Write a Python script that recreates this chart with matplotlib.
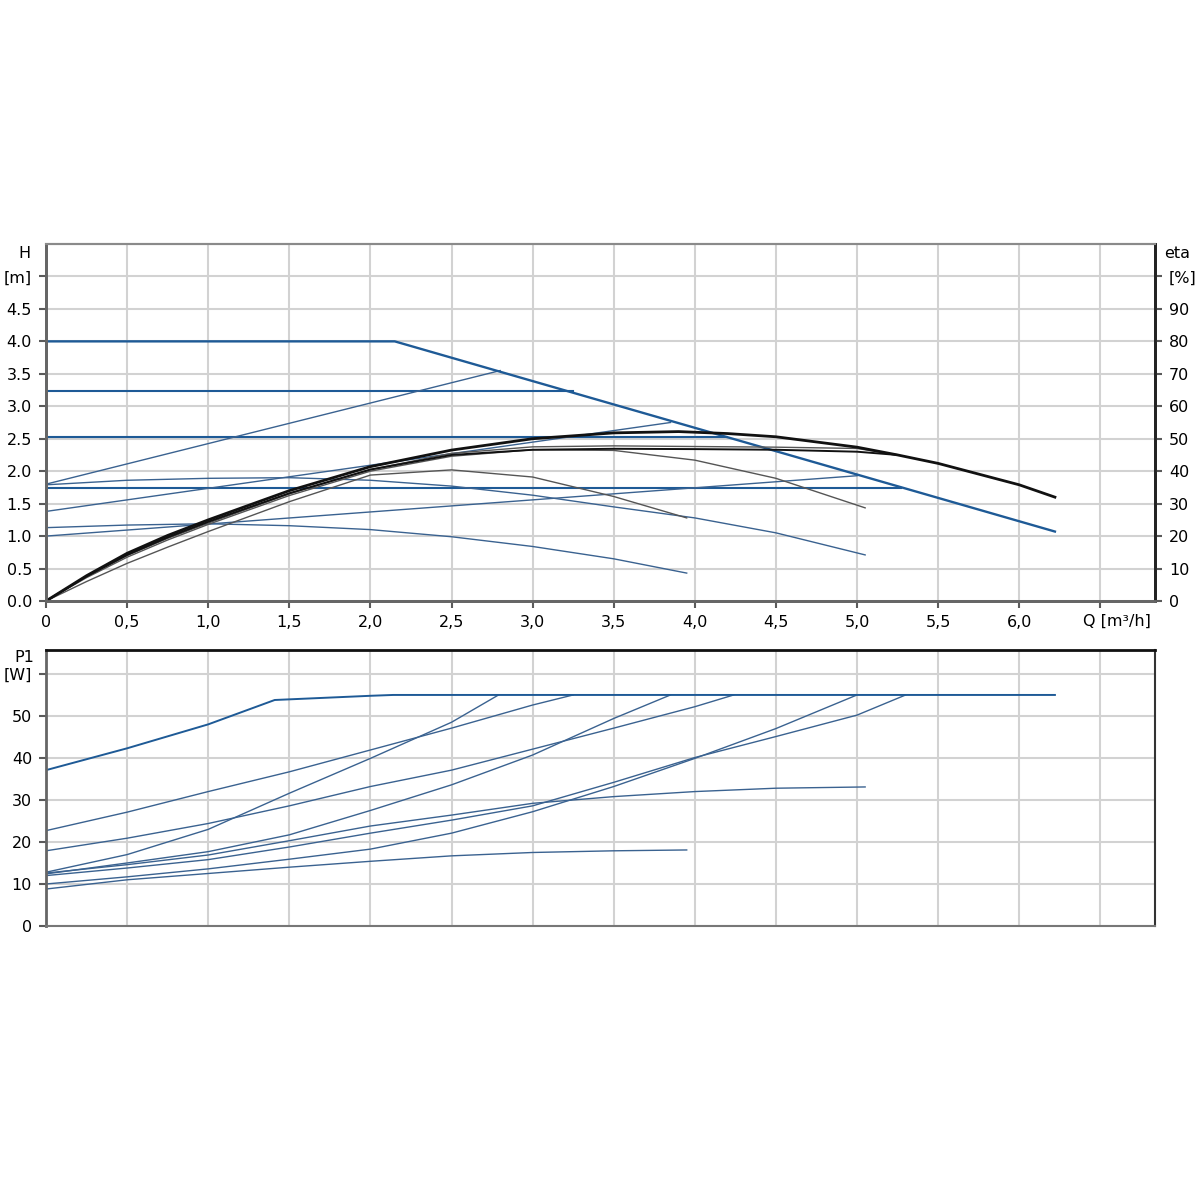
import matplotlib
matplotlib.use('Agg')
import matplotlib.pyplot as plt

plt.rcParams['font.family'] = ['DejaVu Sans']
plt.rcParams['font.size'] = 11.5

# =============================================================================
# H(Q) curves [m]
# =============================================================================
q_max = [0, 2.15, 6.22]
h_max = [4.0, 4.0, 1.07]

q_cp3 = [0, 3.25]
h_cp3 = [3.23, 3.23]
q_cp2 = [0, 4.2]
h_cp2 = [2.52, 2.52]
q_cp1 = [0, 5.27]
h_cp1 = [1.74, 1.74]

q_pp2 = [0, 2.8]
h_pp2 = [1.8, 3.55]
q_pp1 = [0, 3.85]
h_pp1 = [1.38, 2.75]
q_pp0 = [0, 5.0]
h_pp0 = [1.0, 1.93]

q_sp3 = [0, 0.5, 1.0, 1.5, 2.0, 2.5, 3.0, 3.5, 4.0, 4.5, 5.05]
h_sp3 = [1.79, 1.86, 1.89, 1.9, 1.86, 1.77, 1.63, 1.45, 1.28, 1.05, 0.71]
q_sp1 = [0, 0.5, 1.0, 1.5, 2.0, 2.5, 3.0, 3.5, 3.95]
h_sp1 = [1.13, 1.17, 1.19, 1.16, 1.10, 0.99, 0.84, 0.65, 0.43]

# =============================================================================
# eta(Q) curves [%]
# =============================================================================
q_eta1 = [0, 0.25, 0.5, 0.75, 1.0, 1.5, 2.0, 2.5, 3.0, 3.5, 3.9, 4.2, 4.5, 5.0, 5.25, 5.5, 6.0, 6.22]
eta1 = [0, 7.8, 14.7, 20.2, 25, 34, 41.4, 46.5, 50, 51.8, 52.2, 51.6, 50.6, 47.4, 45, 42.4, 35.8, 32]
q_eta2 = [0, 0.25, 0.5, 0.75, 1.0, 1.5, 2.0, 2.5, 3.0, 3.5, 4.0, 4.5, 5.0, 5.25]
eta2 = [0, 7.6, 14.2, 19.6, 24.4, 33.2, 40.5, 45, 46.6, 46.9, 46.8, 46.6, 46.0, 45.0]
q_eta3 = [0, 0.25, 0.5, 0.75, 1.0, 1.5, 2.0, 2.5, 3.0, 3.5, 4.0, 4.5, 5.0, 5.25]
eta3 = [0, 7.5, 14.0, 19.3, 24.0, 33.0, 40.5, 45.5, 47.5, 47.8, 47.6, 47.4, 47.0, 45.0]
q_eta4 = [0, 0.25, 0.5, 0.75, 1.0, 1.5, 2.0, 2.5, 3.0, 3.5, 3.95]
eta4 = [0, 6.0, 11.6, 16.6, 21.4, 30.6, 38.8, 40.4, 38.2, 32.2, 25.6]
q_eta5 = [0, 0.25, 0.5, 0.75, 1.0, 1.5, 2.0, 2.5, 3.0, 3.5, 4.0, 4.5, 5.05]
eta5 = [0, 7.2, 13.5, 18.8, 23.6, 32.5, 40, 44.6, 46.6, 46.4, 43.4, 37.8, 28.7]

# =============================================================================
# P1(Q) curves [W]
# =============================================================================
q_pa = [0, 0.5, 1.0, 1.41, 2.0, 2.14, 6.22]
p_pa = [37.1, 42.3, 48.0, 53.8, 54.8, 55.0, 55.0]
q_pb = [0, 0.5, 1.0, 1.5, 2.0, 2.5, 3.0, 3.25]
p_pb = [22.7, 27.1, 32.0, 36.7, 41.9, 47.1, 52.6, 55.0]
q_pc = [0, 0.5, 1.0, 1.5, 2.0, 2.5, 3.0, 3.5, 4.0, 4.24]
p_pc = [17.9, 20.9, 24.4, 28.6, 33.2, 37.1, 42.1, 47.1, 52.2, 55.0]
q_ps = [0, 0.5, 1.0, 1.5, 2.0, 2.5, 2.79]
p_ps = [12.8, 17.0, 23.0, 31.6, 39.9, 48.5, 55.0]
q_pd = [0, 0.5, 1.0, 1.5, 2.0, 2.5, 3.0, 3.5, 3.85]
p_pd = [12.4, 15.0, 17.7, 21.7, 27.5, 33.6, 40.7, 49.4, 55.0]
q_pe = [0, 0.5, 1.0, 1.5, 2.0, 2.5, 3.0, 3.5, 4.0, 4.5, 5.0]
p_pe = [10.0, 11.7, 13.6, 15.9, 18.3, 22.1, 27.2, 33.2, 39.9, 47.0, 55.0]
q_pf = [0, 0.5, 1.0, 1.5, 2.0, 2.5, 3.0, 3.5, 4.0, 4.5, 5.0, 5.3]
p_pf = [12.0, 13.8, 15.8, 18.8, 22.1, 25.2, 28.6, 34.2, 40.1, 45.1, 50.2, 55.0]
q_pg = [0, 0.5, 1.0, 1.5, 2.0, 2.5, 3.0, 3.5, 4.0, 4.5, 5.05]
p_pg = [12.6, 14.6, 16.9, 20.3, 23.8, 26.4, 29.2, 30.8, 32.0, 32.8, 33.1]
q_ph = [0, 0.5, 1.0, 1.5, 2.0, 2.5, 3.0, 3.5, 3.95]
p_ph = [8.8, 11.0, 12.5, 14.0, 15.4, 16.7, 17.5, 17.9, 18.1]

# tick labels
q_ticks = [0, 0.5, 1.0, 1.5, 2.0, 2.5, 3.0, 3.5, 4.0, 4.5, 5.0, 5.5, 6.0, 6.5]
q_labels = ['0', '0,5', '1,0', '1,5', '2,0', '2,5', '3,0', '3,5', '4,0', '4,5',
            '5,0', '5,5', '6,0', '']
h_ticks = [0, 0.5, 1.0, 1.5, 2.0, 2.5, 3.0, 3.5, 4.0, 4.5, 5.0]
h_labels = ['0.0', '0.5', '1.0', '1.5', '2.0', '2.5', '3.0', '3.5', '4.0', '4.5', '[m]']
eta_ticks = [0, 10, 20, 30, 40, 50, 60, 70, 80, 90, 100]
eta_labels = ['0', '10', '20', '30', '40', '50', '60', '70', '80', '90', '[%]']
p_ticks = [0, 10, 20, 30, 40, 50, 60]
p_labels = ['0', '10', '20', '30', '40', '50', '[W]']

BLUE = '#1e5a96'
BLUE_THIN = '#3a6290'
BLACK = '#111111'
GREY = '#555555'
GRID = '#d2d2d2'
TICK = '#5a5a5a'

fig = plt.figure(figsize=(12, 12), dpi=100)

# -----------------------------------------------------------------------------
# top panel: H and eta
# -----------------------------------------------------------------------------
ax1 = fig.add_axes([46 / 1200, 1 - 601 / 1200, 1109 / 1200, 357 / 1200])
ax1.set_xlim(0, 6.837)
ax1.set_ylim(0, 5.5)
ax1.set_xticks(q_ticks)
ax1.set_xticklabels(q_labels)
ax1.set_yticks(h_ticks)
ax1.set_yticklabels(h_labels)
ax1.grid(True, color=GRID, lw=1.5)
ax1.set_axisbelow(True)
ax1.tick_params(axis='both', length=5, width=1.5, color=TICK, pad=5)

ax1.plot(q_cp3, h_cp3, color=BLUE, lw=1.5)
ax1.plot(q_cp2, h_cp2, color=BLUE, lw=1.5)
ax1.plot(q_cp1, h_cp1, color=BLUE, lw=1.5)
ax1.plot(q_pp2, h_pp2, color=BLUE_THIN, lw=1.0)
ax1.plot(q_pp1, h_pp1, color=BLUE_THIN, lw=1.0)
ax1.plot(q_pp0, h_pp0, color=BLUE_THIN, lw=1.0)
ax1.plot(q_sp3, h_sp3, color=BLUE_THIN, lw=1.0)
ax1.plot(q_sp1, h_sp1, color=BLUE_THIN, lw=1.0)
ax1.plot(q_max, h_max, color=BLUE, lw=1.7)

ax2 = ax1.twinx()
ax2.set_ylim(0, 110)
ax2.set_yticks(eta_ticks)
ax2.set_yticklabels(eta_labels)
ax2.tick_params(axis='y', length=5, width=1.5, color=TICK, pad=5)

ax2.plot(q_eta4, eta4, color=GREY, lw=1.0)
ax2.plot(q_eta5, eta5, color=GREY, lw=1.0)
ax2.plot(q_eta3, eta3, color=GREY, lw=1.0)
ax2.plot(q_eta2, eta2, color=BLACK, lw=1.4)
ax2.plot(q_eta1, eta1, color=BLACK, lw=2.0)

for a in (ax1, ax2):
    a.spines['left'].set_color('#666666')
    a.spines['left'].set_linewidth(2)
    a.spines['bottom'].set_color('#666666')
    a.spines['bottom'].set_linewidth(2)
    a.spines['top'].set_color('#8a8a8a')
    a.spines['top'].set_linewidth(1.5)
    a.spines['right'].set_color('#222222')
    a.spines['right'].set_linewidth(2)

ax1.text(-0.019, 5.36, 'H', transform=ax1.get_yaxis_transform(),
         ha='center', va='center')
ax1.text(1.02, 5.36, 'eta', transform=ax1.get_yaxis_transform(),
         ha='center', va='center')
ax1.text(6.6, -0.31, 'Q [m³/h]', ha='center', va='center')

# -----------------------------------------------------------------------------
# bottom panel: P1
# -----------------------------------------------------------------------------
ax3 = fig.add_axes([46 / 1200, 1 - 926 / 1200, 1109 / 1200, 276 / 1200])
ax3.set_xlim(0, 6.837)
ax3.set_ylim(0, 65.7)
ax3.set_xticks(q_ticks)
ax3.set_xticklabels([])
ax3.set_yticks(p_ticks)
ax3.set_yticklabels(p_labels)
ax3.grid(True, color=GRID, lw=1.5)
ax3.set_axisbelow(True)
ax3.tick_params(axis='y', length=5, width=1.5, color=TICK, pad=5)
ax3.tick_params(axis='x', length=0)

ax3.plot(q_ph, p_ph, color=BLUE_THIN, lw=1.0)
ax3.plot(q_pg, p_pg, color=BLUE_THIN, lw=1.0)
ax3.plot(q_pf, p_pf, color=BLUE_THIN, lw=1.0)
ax3.plot(q_pe, p_pe, color=BLUE_THIN, lw=1.0)
ax3.plot(q_pd, p_pd, color=BLUE_THIN, lw=1.0)
ax3.plot(q_ps, p_ps, color=BLUE_THIN, lw=1.0)
ax3.plot(q_pc, p_pc, color=BLUE_THIN, lw=1.0)
ax3.plot(q_pb, p_pb, color=BLUE_THIN, lw=1.0)
ax3.plot(q_pa, p_pa, color=BLUE, lw=1.4)

ax3.spines['top'].set_color('#111111')
ax3.spines['top'].set_linewidth(2)
ax3.spines['left'].set_color('#666666')
ax3.spines['left'].set_linewidth(2)
ax3.spines['right'].set_color('#333333')
ax3.spines['right'].set_linewidth(1.5)
ax3.spines['bottom'].set_color('#777777')
ax3.spines['bottom'].set_linewidth(1.5)

ax3.text(-0.02, 64.0, 'P1', transform=ax3.get_yaxis_transform(),
         ha='center', va='center')

fig.savefig('out.png', dpi=100, facecolor='white')
